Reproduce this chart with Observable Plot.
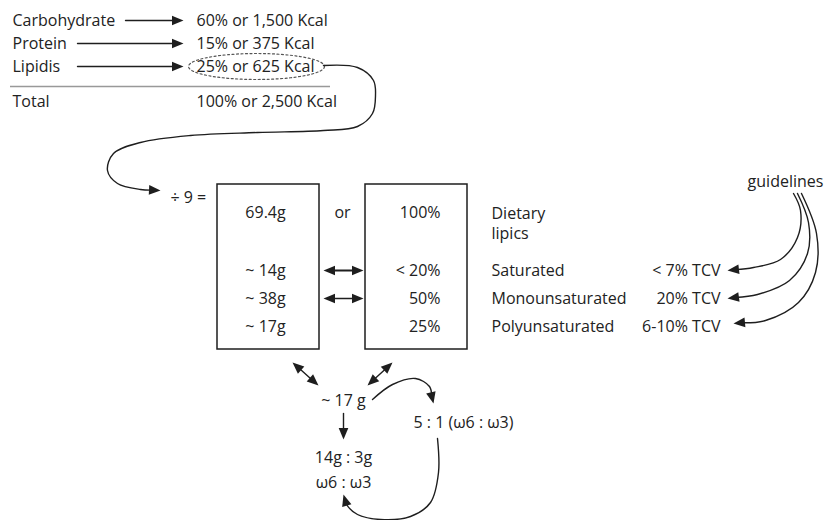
<!DOCTYPE html>
<html><head><meta charset="utf-8">
<script src="https://cdn.jsdelivr.net/npm/d3@7"></script>
<script src="https://cdn.jsdelivr.net/npm/@observablehq/plot@0.6"></script>
<style>body{margin:0;background:#fff} svg{display:block}</style>
</head><body><div id="chart"></div>
<script>
// ---- content ----
const macros = ["Carbohydrate", "Protein", "Lipidis"];
const macroShares = ["60% or 1,500 Kcal", "15% or 375 Kcal", "25% or 625 Kcal"];
const totalRow = ["Total", "100% or 2,500 Kcal"];
const divisor = "÷ 9 =";
const gramValues = ["69.4g", "~ 14g", "~ 38g", "~ 17g"];
const connector = "or";
const percentValues = ["100%", "< 20%", "50%", "25%"];
const lipidTitle = ["Dietary", "lipics"];
const lipidClasses = ["Saturated", "Monounsaturated", "Polyunsaturated"];
const guidelineValues = ["< 7% TCV", "20% TCV", "6-10% TCV"];
const guidelineTitle = "guidelines";
const omegaTotal = "~ 17 g";
const omegaSplit = ["14g : 3g", "ω6 : ω3"];
const omegaRatio = "5 : 1 (ω6 : ω3)";

// ---- layout (diagram geometry) ----
const topRowsY = [20, 43, 66];
const totalY = 101;
const boxRowsY = [212, 270, 298, 326];
const guideRowsY = [270, 298, 326];

const INK = "#1e1e1e";
const TXT = "#222";

// connector paths: points, arrowhead at start/end
const paths = [
  {pts: [[125, 20], [183, 20]], end: true},
  {pts: [[77, 43], [183, 43]], end: true},
  {pts: [[77, 66], [183, 66]], end: true},
  {pts: [[323,65],[357,67],[373,80],[375,95],[372,113],[357,126],[323,130],[257,132],[190,135],[140,142],[113,153],[107,170],[117,183],[140,189],[160,190]], end: true},
  {pts: [[323, 270], [363, 270]], start: true, end: true, w: 2},
  {pts: [[323, 298], [363, 298]], start: true, end: true},
  {pts: [[793,193],[800,210],[797,237],[780,259],[753,267],[727,270]], end: true},
  {pts: [[797,193],[808,222],[807,253],[789,280],[757,294],[727,298]], end: true},
  {pts: [[801,193],[816,233],[815,272],[798,302],[765,320],[733,323]], end: true},
  {pts: [[292, 362], [318, 385]], start: true, end: true},
  {pts: [[392, 362], [367, 385]], start: true, end: true},
  {pts: [[372,399],[392,384],[415,378],[429,386],[433,403]], end: true},
  {pts: [[343, 413], [343, 439]], end: true},
  {pts: [[437,438],[438,472],[430,502],[410,516],[380,519],[357,514],[346,504],[343,494]], end: true}
];

const HR = 4.6; // arrowhead size
const arrowSymbol = {
  draw(ctx, size) {
    const r = Math.sqrt(size / Math.PI);
    const L = 2.5 * r, w = 1.05 * r;
    ctx.moveTo(0, 0);
    ctx.lineTo(-w, L);
    ctx.lineTo(w, L);
    ctx.closePath();
  }
};
const headLen = 2.5 * HR;

const lineRows = [];
const heads = [];
paths.forEach((p, i) => {
  const pts = p.pts.map(d => d.slice());
  const n = pts.length;
  function mk(tip, from) {
    const dx = tip[0] - from[0], dy = tip[1] - from[1];
    const L = Math.hypot(dx, dy);
    heads.push({x: tip[0], y: tip[1], rotate: Math.atan2(dy, dx) * 180 / Math.PI + 90});
    return [tip[0] - dx / L * headLen * 0.7, tip[1] - dy / L * headLen * 0.7];
  }
  if (p.end) pts[n - 1] = mk(p.pts[n - 1], p.pts[n - 2]);
  if (p.start) pts[0] = mk(p.pts[0], p.pts[1]);
  pts.forEach(([x, y]) => lineRows.push({id: i, x, y, w: p.w || 1.4}));
});

// dotted ellipse around the lipid share
const ell = [];
for (let k = 0; k <= 72; k++) {
  const a = k / 72 * 2 * Math.PI;
  ell.push({x: 256 + 68 * Math.cos(a), y: 66 + 13 * Math.sin(a)});
}

const startText = [
  ...macros.map((t, i) => ({t, x: 12, y: topRowsY[i]})),
  {t: totalRow[0], x: 12, y: totalY},
  ...macroShares.map((t, i) => ({t, x: 196, y: topRowsY[i]})),
  {t: totalRow[1], x: 196, y: totalY},
  {t: divisor, x: 170, y: 197},
  {t: omegaRatio, x: 413, y: 422},
  {t: lipidTitle[0], x: 491, y: 213},
  {t: lipidTitle[1], x: 491, y: 233},
  ...lipidClasses.map((t, i) => ({t, x: 491, y: boxRowsY[i + 1]}))
];
const middleText = [
  ...gramValues.map((t, i) => ({t, x: 265, y: boxRowsY[i]})),
  {t: connector, x: 342, y: boxRowsY[0]},
  {t: guidelineTitle, x: 785, y: 181},
  {t: omegaTotal, x: 343, y: 400},
  {t: omegaSplit[0], x: 343, y: 457},
  {t: omegaSplit[1], x: 343, y: 482}
];
const endText = [
  ...percentValues.map((t, i) => ({t, x: 440, y: boxRowsY[i]})),
  ...guidelineValues.map((t, i) => ({t, x: 720, y: guideRowsY[i]}))
];

const boxes = [
  {x1: 217, x2: 319, y1: 184, y2: 349},
  {x1: 365, x2: 467, y1: 184, y2: 349}
];

const FS = 16;
const chart = Plot.plot({
  width: 827, height: 520, margin: 0,
  x: {domain: [0, 827], axis: null},
  y: {domain: [0, 520], reverse: true, axis: null},
  style: {fontFamily: "'Open Sans', sans-serif", background: "#fff"},
  marks: [
    Plot.ruleY([86], {x1: 10, x2: 330, stroke: "#999", strokeWidth: 1.6}),
    Plot.rect(boxes, {x1: "x1", x2: "x2", y1: "y1", y2: "y2", fill: "none", stroke: INK, strokeWidth: 1.5}),
    Plot.line(ell, {x: "x", y: "y", stroke: "#555", strokeWidth: 1.2, strokeDasharray: "2,2.5"}),
    Plot.line(lineRows, {x: "x", y: "y", z: "id", stroke: INK, strokeWidth: "w", curve: "catmull-rom"}),
    Plot.dot(heads, {x: "x", y: "y", rotate: "rotate", symbol: arrowSymbol, r: HR, fill: INK, stroke: "none"}),
    Plot.text(startText, {x: "x", y: "y", text: "t", textAnchor: "start", fill: TXT, fontSize: FS}),
    Plot.text(middleText, {x: "x", y: "y", text: "t", textAnchor: "middle", fill: TXT, fontSize: FS}),
    Plot.text(endText, {x: "x", y: "y", text: "t", textAnchor: "end", fill: TXT, fontSize: FS})
  ]
});
document.getElementById("chart").appendChild(chart);
</script>
</body></html>
